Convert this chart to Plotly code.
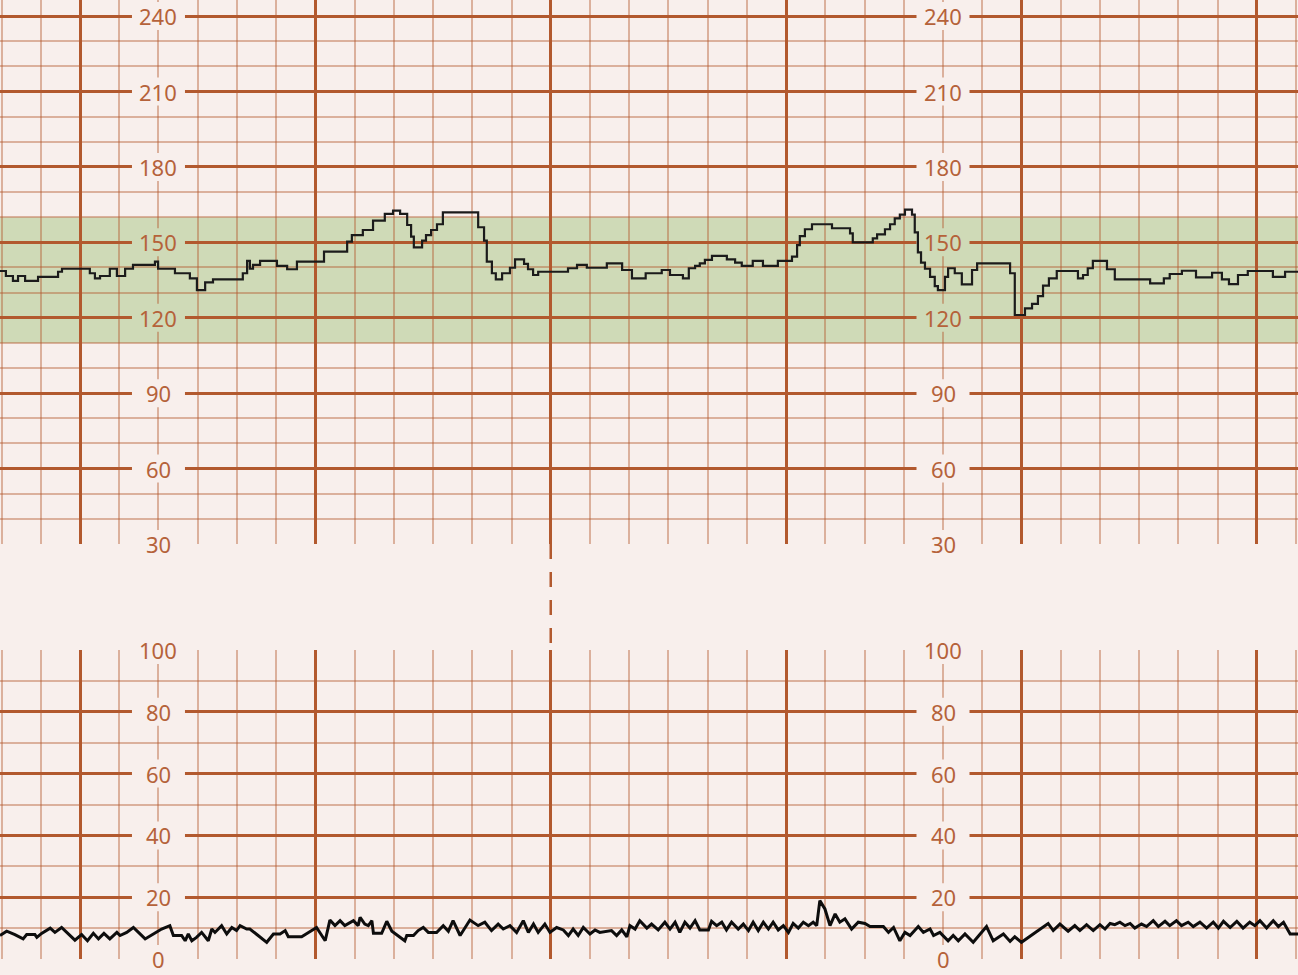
import plotly.graph_objects as go

# ---------------- data ----------------
# Fetal heart rate (bpm), step trace: time (s) of each step start and level
fhr_t = [-20.4, -18.9, -17.1, -15.8, -14.0, -10.7, -5.6, -4.6, 2.5, 3.8, 5.1, 7.6, 9.4, 11.5,
         13.5, 19.1, 19.9, 24.2, 28.0, 29.8, 31.9, 33.9, 41.5, 42.6, 43.3, 44.1, 45.9, 50.2,
         52.8, 55.3, 62.2, 68.1, 69.3, 72.1, 74.7, 77.7, 79.8, 81.6, 83.4, 84.4, 85.1, 87.2,
         88.2, 89.5, 91.0, 92.5, 101.5, 103.0, 103.7, 105.0, 106.0, 107.6, 109.6, 110.9,
         113.2, 114.2, 115.5, 116.8, 124.4, 126.7, 129.2, 134.3, 138.2, 140.7, 144.2, 148.3,
         150.4, 153.7, 155.2, 156.8, 158.0, 159.3, 161.1, 164.9, 167.0, 168.7, 171.5, 174.1,
         177.9, 181.5, 182.8, 183.5, 184.8, 186.6, 191.7, 196.3, 197.0, 202.1, 203.2, 205.2,
         206.5, 207.7, 209.0, 210.3, 212.1, 212.8, 213.6, 214.4, 215.4, 216.7, 217.9, 218.7,
         220.5, 221.3, 223.0, 224.8, 227.4, 228.7, 237.1, 238.3, 240.9, 242.7, 244.2, 245.5,
         247.0, 249.0, 254.4, 255.7, 256.9, 258.2, 261.8, 263.8, 272.8, 276.3, 277.8, 280.9,
         284.5, 288.6, 291.1, 292.9, 295.2, 297.7, 304.1, 307.2, 310.5]
fhr_bpm = [138.6, 136.6, 134.7, 136.6, 134.7, 136.3, 138.3, 139.5, 137.7, 135.7, 136.6, 139.5, 136.6, 139.5,
           141.0, 142.3, 139.5, 137.7, 135.7, 131.0, 134.1, 135.3, 137.7, 142.6, 139.5, 141.0, 142.6, 140.6,
           139.3, 142.3, 146.3, 150.3, 152.9, 154.9, 158.6, 161.3, 162.6, 161.3, 156.9, 152.3, 148.0, 150.7,
           152.9, 154.9, 157.2, 161.9, 156.0, 150.7, 142.3, 137.7, 135.3, 137.7, 139.9, 143.2,
           141.4, 139.3, 137.0, 138.3, 139.7, 141.0, 139.9, 141.6, 139.0, 135.7, 137.7, 139.0,
           137.0, 135.7, 139.7, 140.6, 141.6, 143.0, 144.6, 143.2, 141.9, 140.6, 142.6, 140.6,
           142.6, 144.3, 148.9, 152.5, 155.2, 157.2, 155.6, 153.6, 150.0, 151.6, 153.2, 155.2,
           157.2, 159.5, 161.0, 163.0, 161.0, 154.0, 146.0, 141.9, 139.5, 136.3, 132.6, 131.0,
           136.3, 139.7, 137.7, 133.3, 139.0, 141.6, 137.7, 121.1, 123.7, 125.5, 128.6, 132.8,
           135.7, 138.6, 135.7, 137.0, 139.7, 142.6, 139.3, 135.3, 133.7, 135.7, 137.4, 138.7,
           136.1, 137.9, 135.3, 133.4, 137.0, 138.6, 136.3, 138.3, 138.3]

# Uterine activity trace: time (s) and value
ua_t = [-20.4, -18.7, -16.6, -14.5, -13.6, -11.5, -11.0, -9.8, -7.6, -6.4, -4.7, -3.0, -1.3, 0.4,
        1.9, 3.4, 4.7, 6.1, 7.6, 9.4, 10.2, 11.9, 13.6, 14.9, 16.6, 18.7, 20.8, 22.9, 23.8, 25.9,
        26.8, 27.6, 28.5, 29.7, 31.0, 32.7, 33.6, 34.4, 36.1, 37.4, 38.7, 39.9, 40.8, 42.5, 43.3,
        45.4, 47.6, 49.3, 51.0, 52.3, 53.1, 56.5, 59.5, 60.3, 62.5, 63.7, 65.0, 66.3, 67.5, 68.8,
        69.7, 70.9, 71.4, 72.6, 73.5, 74.4, 74.8, 76.9, 78.2, 79.5, 81.1, 82.8, 83.3, 85.0, 86.2,
        87.5, 88.8, 90.9, 92.6, 93.9, 95.1, 96.9, 99.4, 101.5, 103.2, 104.9, 106.6, 107.9, 109.6,
        111.3, 113.0, 114.3, 115.6, 116.8, 118.5, 119.8, 121.5, 123.2, 124.5, 125.7, 127.0, 128.3,
        130.0, 131.3, 132.5, 134.3, 135.5, 136.8, 138.1, 139.4, 140.2, 141.5, 142.7, 144.5, 145.7,
        147.4, 149.1, 150.4, 151.7, 152.9, 154.2, 155.5, 156.8, 158.0, 160.2, 161.0, 162.3, 163.6,
        164.8, 166.1, 167.8, 169.1, 170.4, 171.6, 172.9, 174.2, 175.5, 176.7, 178.0, 179.3, 180.6,
        181.8, 183.1, 184.4, 185.7, 186.9, 187.8, 188.6, 189.9, 191.2, 192.5, 193.7, 195.0, 196.7,
        198.4, 200.1, 201.4, 204.8, 206.1, 207.4, 209.0, 210.3, 211.6, 213.7, 215.0, 216.7, 217.6,
        219.2, 221.3, 222.6, 223.9, 225.6, 227.7, 231.1, 232.8, 235.4, 237.1, 238.3, 240.0, 243.0,
        245.1, 246.8, 248.1, 249.8, 251.9, 253.6, 254.9, 256.6, 258.3, 260.0, 261.3, 262.6, 263.8,
        265.1, 266.4, 267.7, 268.9, 270.6, 271.9, 273.6, 274.9, 276.6, 277.8, 279.5, 280.8, 282.5,
        283.8, 285.5, 287.2, 288.9, 290.2, 291.5, 293.2, 294.9, 296.5, 298.2, 299.5, 300.8, 302.5,
        304.2, 305.5, 306.8, 308.5, 310.5]
ua_val = [7.6, 9.0, 7.9, 6.5, 7.9, 7.9, 7.0, 8.3, 10.0, 8.6, 10.2, 8.1, 6.1, 7.9,
          5.9, 8.3, 6.5, 8.3, 6.5, 8.6, 7.6, 8.6, 10.2, 8.6, 6.5, 8.1, 9.7, 10.8, 7.6, 7.6,
          5.9, 8.1, 5.9, 7.0, 8.6, 5.9, 9.7, 8.6, 10.8, 8.1, 10.2, 9.2, 10.8, 9.7, 9.7,
          7.6, 5.4, 8.1, 8.1, 9.2, 7.2, 7.2, 9.7, 10.2, 5.9, 12.6, 10.8, 12.4, 10.8, 11.9,
          12.4, 10.8, 13.5, 11.3, 10.8, 12.4, 8.3, 8.3, 12.2, 9.0, 7.6, 5.9, 7.6, 7.6, 9.2,
          10.2, 8.6, 8.6, 10.8, 9.0, 12.4, 7.6, 12.6, 10.8, 11.9, 9.2, 11.3, 9.7, 10.8,
          8.6, 12.4, 8.6, 11.3, 8.6, 11.3, 8.6, 10.2, 9.4, 7.6, 9.7, 7.6, 10.2,
          8.1, 9.4, 8.6, 9.0, 9.2, 7.6, 9.4, 7.2, 10.8, 9.7, 12.4, 10.0, 11.3,
          9.4, 11.9, 9.7, 11.9, 8.6, 11.9, 10.0, 12.4, 9.4, 9.4, 12.2, 10.8, 11.9,
          9.4, 11.9, 9.7, 11.3, 9.2, 11.9, 9.2, 11.9, 9.7, 11.9, 9.4, 10.8, 8.6,
          11.5, 10.0, 11.9, 10.8, 11.9, 10.8, 18.9, 16.2, 10.8, 14.6, 11.9, 13.0, 9.7,
          11.9, 11.5, 10.5, 10.5, 8.6, 10.2, 5.9, 8.6, 7.6, 10.5, 8.6, 9.7, 7.6,
          8.6, 5.9, 7.6, 5.9, 8.1, 5.4, 10.5, 5.9, 8.1, 5.7, 7.2, 5.4, 8.1,
          10.0, 11.5, 9.2, 11.3, 9.0, 10.8, 9.2, 11.1, 9.2, 11.1, 9.7, 11.5, 11.1,
          11.9, 10.8, 11.5, 10.0, 11.3, 10.5, 12.4, 10.5, 12.2, 10.8, 12.4, 10.8, 11.9,
          10.5, 11.9, 10.0, 11.9, 10.0, 12.2, 10.2, 12.2, 10.0, 11.9, 10.8, 12.4, 10.0,
          12.4, 10.5, 11.9, 8.1, 8.1]

fhr_ticks = [240, 210, 180, 150, 120, 90, 60, 30]
ua_ticks = [100, 80, 60, 40, 20, 0]
label_times = [20, 220]
normal_band = [110, 160]
marker_time = 120
time_range = [-20.4, 310.5]
fhr_range = [30, 246.4]
ua_range = [0, 100]

# ---------------- style ----------------
BG = "#f8efec"
GREEN = "#cfdab7"
MAJOR = "#b2592e"
MINOR = "rgba(178,89,46,0.42)"
TEXT = "#b5623a"
FONT = "Noto Sans"

FHR_TOP_PX, FHR_BOT_PX, UA_TOP_PX, UA_BOT_PX, H = 0, 544, 650, 959, 975
px_per_s = 1298 / (time_range[1] - time_range[0])
fhr_px_per_unit = (FHR_BOT_PX - FHR_TOP_PX) / (fhr_range[1] - fhr_range[0])
ua_px_per_unit = (UA_BOT_PX - UA_TOP_PX) / (ua_range[1] - ua_range[0])
box_hw_s = 26.5 / px_per_s           # half-width of label box (s)
box_hh_fhr = 14 / fhr_px_per_unit    # half-height in bpm
box_hh_ua = 14 / ua_px_per_unit

fig = go.Figure()
fig.add_trace(go.Scatter(x=fhr_t, y=fhr_bpm, mode="lines", line=dict(color="#1b1b1b", width=2.2, shape="hv"),
                         xaxis="x", yaxis="y", hoverinfo="skip", showlegend=False))
fig.add_trace(go.Scatter(x=ua_t, y=ua_val, mode="lines", line=dict(color="#0d0d0d", width=3),
                         xaxis="x2", yaxis="y2", hoverinfo="skip", showlegend=False))

xcommon = dict(range=time_range, showticklabels=False, zeroline=False, showline=False,
               tick0=0, dtick=60, gridcolor=MAJOR, gridwidth=3,
               minor=dict(dtick=10, tick0=0, gridcolor=MINOR, gridwidth=1.8, showgrid=True),
               fixedrange=True)
fig.update_layout(
    width=1298, height=H,
    margin=dict(l=0, r=0, t=0, b=0),
    paper_bgcolor=BG, plot_bgcolor=BG,
    font=dict(family=FONT, color=TEXT),
    xaxis=dict(domain=[0, 1], anchor="y", **xcommon),
    xaxis2=dict(domain=[0, 1], anchor="y2", **xcommon),
    yaxis=dict(domain=[1 - FHR_BOT_PX / H, 1 - FHR_TOP_PX / H], range=fhr_range, anchor="x",
               showticklabels=False, zeroline=False, showline=False, tick0=0, dtick=30,
               gridcolor=MAJOR, gridwidth=2.6, fixedrange=True,
               minor=dict(dtick=10, tick0=0, gridcolor=MINOR, gridwidth=1.8, showgrid=True)),
    yaxis2=dict(domain=[1 - UA_BOT_PX / H, 1 - UA_TOP_PX / H], range=ua_range, anchor="x2",
                showticklabels=False, zeroline=False, showline=False, tick0=0, dtick=20,
                gridcolor=MAJOR, gridwidth=2.6, fixedrange=True,
                minor=dict(dtick=10, tick0=0, gridcolor=MINOR, gridwidth=1.8, showgrid=True)),
)

# normal FHR band
fig.add_shape(type="rect", xref="x domain", yref="y", x0=0, x1=1, y0=normal_band[0], y1=normal_band[1],
              fillcolor=GREEN, line=dict(width=0), layer="below")

# dashed marker in the gap between panels
fig.add_shape(type="line", xref="x", yref="paper", x0=marker_time, x1=marker_time,
              y0=1 - FHR_BOT_PX / H, y1=1 - UA_TOP_PX / H,
              line=dict(color=MAJOR, width=2.5, dash="15px,13px"))

# label boxes break the grid (between grid and traces) + label text
for t in label_times:
    for v in fhr_ticks:
        inband = normal_band[0] <= v <= normal_band[1]
        fig.add_shape(type="rect", xref="x", yref="y", x0=t - box_hw_s, x1=t + box_hw_s,
                      y0=v - box_hh_fhr, y1=v + box_hh_fhr, fillcolor=GREEN if inband else BG,
                      line=dict(width=0), layer="between")
        fig.add_annotation(x=t, y=v, xref="x", yref="y", text=str(v), showarrow=False,
                           font=dict(size=22, color=TEXT, family=FONT))
    for v in ua_ticks:
        fig.add_shape(type="rect", xref="x2", yref="y2", x0=t - box_hw_s, x1=t + box_hw_s,
                      y0=v - box_hh_ua, y1=v + box_hh_ua, fillcolor=BG,
                      line=dict(width=0), layer="between")
        fig.add_annotation(x=t, y=v, xref="x2", yref="y2", text=str(v), showarrow=False,
                           font=dict(size=22, color=TEXT, family=FONT))

fig.write_html("out.html", config={"displayModeBar": False},
               post_script="document.body.style.margin='0px';")
